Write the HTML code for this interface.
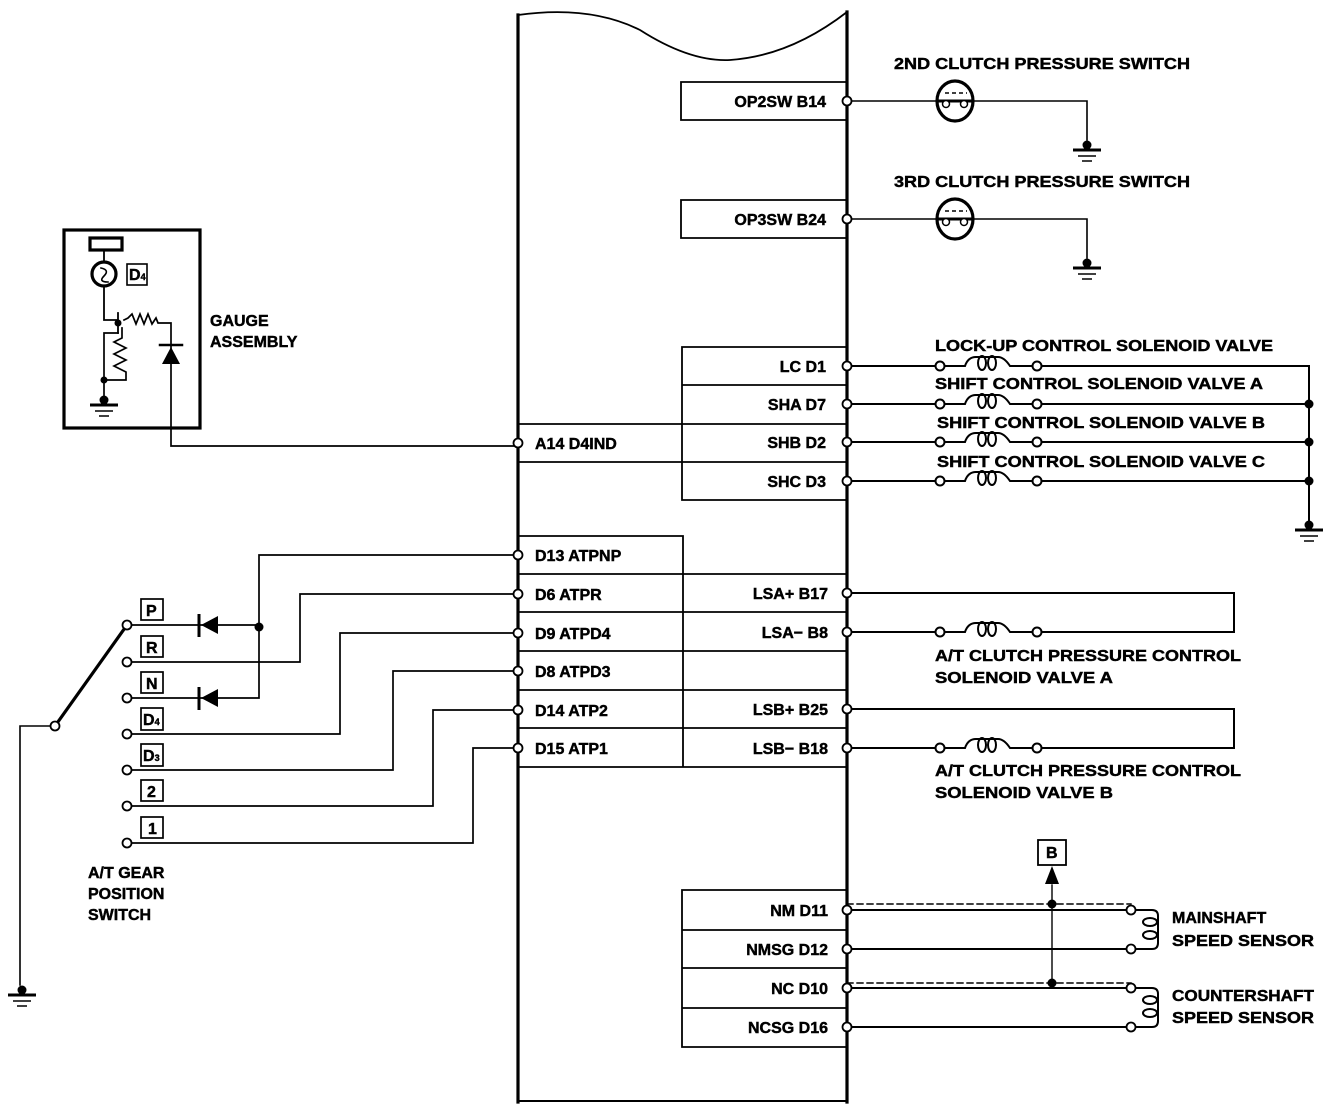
<!DOCTYPE html>
<html><head><meta charset="utf-8"><style>
html,body{margin:0;padding:0;background:#fff;}
svg{display:block;}
text{font-family:"Liberation Sans",sans-serif;font-weight:bold;font-size:16px;fill:#000;stroke:#000;stroke-width:0.45px;}
</style></head><body>
<svg width="1344" height="1110" viewBox="0 0 1344 1110" xmlns="http://www.w3.org/2000/svg">
<defs>
<g id="gnd"><circle cx="0" cy="-3" r="4.5" fill="#000"/><line x1="-14" y1="2" x2="14" y2="2" stroke="#000" stroke-width="3"/><line x1="-9" y1="8" x2="9" y2="8" stroke="#000" stroke-width="1.5"/><line x1="-5" y1="13" x2="5" y2="13" stroke="#000" stroke-width="1.5"/></g>
<g id="coil" fill="none" stroke="#000" stroke-width="2"><path d="M5 0 L25 0 Q28 -9 36 -9 L58 -9 Q64 -9 70 0 L92 0"/><ellipse cx="42" cy="-3" rx="4" ry="7"/><ellipse cx="52" cy="-3" rx="4" ry="7"/><circle cx="0" cy="0" r="4.5" fill="#fff"/><circle cx="97" cy="0" r="4.5" fill="#fff"/></g>
<g id="pin"><circle r="4.5" fill="#fff" stroke="#000" stroke-width="1.8"/></g>
<g id="psw"><ellipse cx="0" cy="0" rx="18" ry="20" fill="#fff" stroke="#000" stroke-width="3.2"/><line x1="-18" y1="0" x2="18" y2="0" stroke="#000" stroke-width="3"/><line x1="-10" y1="-8" x2="12" y2="-8" stroke="#000" stroke-width="1.5" stroke-dasharray="4 3"/><circle cx="-9" cy="3" r="3.5" fill="#fff" stroke="#000" stroke-width="1.5"/><circle cx="9" cy="3" r="3.5" fill="#fff" stroke="#000" stroke-width="1.5"/></g>
</defs>
<g fill="none" stroke="#000" stroke-linecap="square">
<path d="M518 15 Q590 5 640 30 Q690 62 730 60 Q790 56 847 12" stroke-width="1.8"/>
<line x1="518" y1="15" x2="518" y2="1102" stroke-width="3.2"/>
<line x1="847" y1="12" x2="847" y2="1102" stroke-width="3.2"/>
<line x1="518" y1="1101" x2="847" y2="1101" stroke-width="2"/>
<g stroke-width="1.8">
<path d="M847 82 H681 V120 H847"/>
<path d="M847 200 H681 V238 H847"/>
<path d="M847 347 H682 V500 H847 M682 385 H847 M518 424 H847 M682 462 H847 M518 462 H682"/>
<path d="M518 536 H683 V767 M518 574 H847 M518 612 H847 M518 651 H847 M518 690 H847 M518 728 H847 M518 767 H847"/>
<path d="M847 890 H682 V1047 H847 M682 930 H847 M682 968 H847 M682 1008 H847"/>
</g>
<g stroke-width="1.6">
<path d="M847 101 H937 M973 101 H1087 V140"/>
<path d="M847 219 H937 M973 219 H1087 V258"/>
</g>
<g stroke-width="2">
<path d="M847 366 H940 M1037 366 H1309 V520"/>
<path d="M847 404 H940 M1037 404 H1309"/>
<path d="M847 442 H940 M1037 442 H1309"/>
<path d="M847 481 H940 M1037 481 H1309"/>
<path d="M847 593 H1234 V632 H1037 M847 632 H940"/>
<path d="M847 709 H1234 V748 H1037 M847 748 H940"/>
</g>
<g stroke-width="2">
<path d="M847 910 H1131 M847 949 H1131 M847 988 H1131 M847 1027 H1131"/>
<path d="M1136 910 H1152 Q1158 910 1158 916 V943 Q1158 949 1152 949 H1136"/>
<path d="M1136 988 H1152 Q1158 988 1158 994 V1021 Q1158 1027 1152 1027 H1136"/>
<ellipse cx="1150" cy="922" rx="7" ry="4"/><ellipse cx="1150" cy="935" rx="7" ry="4"/>
<ellipse cx="1150" cy="1000" rx="7" ry="4"/><ellipse cx="1150" cy="1013" rx="7" ry="4"/>
</g>
<g stroke-width="1.4" stroke-dasharray="6 4"><path d="M847 904 H1131 M847 983 H1131"/></g>
<path d="M1052 983 V885" stroke-width="1.4"/>
<rect x="1038" y="840" width="28" height="25" stroke-width="1.8"/>
<rect x="64" y="230" width="136" height="198" stroke-width="3.2"/>
<rect x="90" y="238" width="32" height="12" stroke-width="3.2"/>
<path d="M104 250 V261 M104 287 V320 H118 M118 313 V333" stroke-width="1.8"/>
<circle cx="104" cy="274" r="12" stroke-width="3.2"/>
<path d="M101 268 Q110 270 104 276 Q98 282 108 282" stroke-width="1.6"/>
<rect x="127" y="264" width="20" height="21" stroke-width="1.6"/>
<path d="M124 320 L128 318 L132 314 L136 324 L140 314 L144 324 L148 314 L152 324 L156 318 L158 323 H171 V446 H518" stroke-width="1.7"/>
<path d="M118 333 H104 V380 M122 328 V338 L114 342 L126 348 L114 354 L126 360 L114 366 L126 372 V380 H104 V398" stroke-width="1.7"/>
<line x1="160" y1="345" x2="182" y2="345" stroke-width="2.5"/>
<path d="M55 726 L127 625" stroke-width="3.2"/>
<path d="M51 726 H20 V985" stroke-width="1.6"/>
<g stroke-width="1.7">
<path d="M127 625 H259 M127 698 H259 V555 H518"/>
<path d="M127 662 H300 V594 H518"/>
<path d="M127 734 H340 V633 H518"/>
<path d="M127 770 H393 V671 H518"/>
<path d="M127 806 H433 V710 H518"/>
<path d="M127 843 H473 V748 H518"/>
</g>
<g stroke-width="1.7">
<rect x="141" y="599" width="22" height="21"/><rect x="141" y="636" width="22" height="21"/>
<rect x="141" y="672" width="22" height="21"/><rect x="141" y="708" width="22" height="22"/>
<rect x="141" y="744" width="22" height="22"/><rect x="141" y="780" width="22" height="21"/>
<rect x="141" y="817" width="22" height="21"/>
</g>
</g>
<polygon points="201,625 218,616 218,634" fill="#000"/><line x1="199" y1="614" x2="199" y2="637" stroke="#000" stroke-width="3"/>
<polygon points="201,698 218,689 218,707" fill="#000"/><line x1="199" y1="687" x2="199" y2="710" stroke="#000" stroke-width="3"/>
<polygon points="171,347 162,364 180,364" fill="#000"/>
<circle cx="259" cy="627" r="4.5" fill="#000"/>
<circle cx="104" cy="380" r="3.5" fill="#000"/>
<circle cx="118" cy="323" r="3.5" fill="#000"/>
<use href="#pin" x="847" y="101"/><use href="#pin" x="847" y="219"/>
<use href="#pin" x="847" y="366"/><use href="#pin" x="847" y="404"/><use href="#pin" x="847" y="442"/><use href="#pin" x="847" y="481"/>
<use href="#pin" x="518" y="443"/>
<use href="#pin" x="518" y="555"/><use href="#pin" x="518" y="594"/><use href="#pin" x="518" y="633"/><use href="#pin" x="518" y="671"/><use href="#pin" x="518" y="710"/><use href="#pin" x="518" y="748"/>
<use href="#pin" x="847" y="593"/><use href="#pin" x="847" y="632"/><use href="#pin" x="847" y="709"/><use href="#pin" x="847" y="748"/>
<use href="#pin" x="847" y="910"/><use href="#pin" x="847" y="949"/><use href="#pin" x="847" y="988"/><use href="#pin" x="847" y="1027"/>
<use href="#pin" x="1131" y="910"/><use href="#pin" x="1131" y="949"/><use href="#pin" x="1131" y="988"/><use href="#pin" x="1131" y="1027"/>
<use href="#pin" x="127" y="625"/><use href="#pin" x="127" y="662"/><use href="#pin" x="127" y="698"/><use href="#pin" x="127" y="734"/><use href="#pin" x="127" y="770"/><use href="#pin" x="127" y="806"/><use href="#pin" x="127" y="843"/>
<use href="#pin" x="55" y="726"/>
<use href="#coil" x="940" y="366"/><use href="#coil" x="940" y="404"/><use href="#coil" x="940" y="442"/><use href="#coil" x="940" y="481"/>
<use href="#coil" x="940" y="632"/><use href="#coil" x="940" y="748"/>
<use href="#psw" x="955" y="101"/><use href="#psw" x="955" y="219"/>
<circle cx="1309" cy="404" r="4.5"/><circle cx="1309" cy="442" r="4.5"/><circle cx="1309" cy="481" r="4.5"/>
<circle cx="1052" cy="904" r="4.5"/><circle cx="1052" cy="983" r="4.5"/>
<polygon points="1052,866 1045,884 1059,884" fill="#000"/>
<use href="#gnd" x="1087" y="148"/><use href="#gnd" x="1087" y="266"/><use href="#gnd" x="1309" y="528"/>
<use href="#gnd" x="104" y="403"/><use href="#gnd" x="22" y="993"/>
<text x="894" y="69" textLength="296" lengthAdjust="spacingAndGlyphs">2ND CLUTCH PRESSURE SWITCH</text>
<text x="894" y="187" textLength="296" lengthAdjust="spacingAndGlyphs">3RD CLUTCH PRESSURE SWITCH</text>
<text x="826" y="107" text-anchor="end">OP2SW B14</text>
<text x="826" y="225" text-anchor="end">OP3SW B24</text>
<text x="826" y="372" text-anchor="end">LC D1</text>
<text x="826" y="410" text-anchor="end">SHA D7</text>
<text x="826" y="448" text-anchor="end">SHB D2</text>
<text x="826" y="487" text-anchor="end">SHC D3</text>
<text x="535" y="449">A14 D4IND</text>
<text x="935" y="351" textLength="338" lengthAdjust="spacingAndGlyphs">LOCK-UP CONTROL SOLENOID VALVE</text>
<text x="935" y="389" textLength="328" lengthAdjust="spacingAndGlyphs">SHIFT CONTROL SOLENOID VALVE A</text>
<text x="937" y="428" textLength="328" lengthAdjust="spacingAndGlyphs">SHIFT CONTROL SOLENOID VALVE B</text>
<text x="937" y="467" textLength="328" lengthAdjust="spacingAndGlyphs">SHIFT CONTROL SOLENOID VALVE C</text>
<text x="535" y="561">D13 ATPNP</text>
<text x="535" y="600">D6 ATPR</text>
<text x="535" y="639">D9 ATPD4</text>
<text x="535" y="677">D8 ATPD3</text>
<text x="535" y="716">D14 ATP2</text>
<text x="535" y="754">D15 ATP1</text>
<text x="828" y="599" text-anchor="end">LSA+ B17</text>
<text x="828" y="638" text-anchor="end">LSA− B8</text>
<text x="828" y="715" text-anchor="end">LSB+ B25</text>
<text x="828" y="754" text-anchor="end">LSB− B18</text>
<text x="935" y="661" textLength="306" lengthAdjust="spacingAndGlyphs">A/T CLUTCH PRESSURE CONTROL</text>
<text x="935" y="683" textLength="178" lengthAdjust="spacingAndGlyphs">SOLENOID VALVE A</text>
<text x="935" y="776" textLength="306" lengthAdjust="spacingAndGlyphs">A/T CLUTCH PRESSURE CONTROL</text>
<text x="935" y="798" textLength="178" lengthAdjust="spacingAndGlyphs">SOLENOID VALVE B</text>
<text x="828" y="916" text-anchor="end">NM D11</text>
<text x="828" y="955" text-anchor="end">NMSG D12</text>
<text x="828" y="994" text-anchor="end">NC D10</text>
<text x="828" y="1033" text-anchor="end">NCSG D16</text>
<text x="1046" y="858" font-size="14">B</text>
<text x="1172" y="923">MAINSHAFT</text>
<text x="1172" y="946" textLength="142" lengthAdjust="spacingAndGlyphs">SPEED SENSOR</text>
<text x="1172" y="1001" textLength="142" lengthAdjust="spacingAndGlyphs">COUNTERSHAFT</text>
<text x="1172" y="1023" textLength="142" lengthAdjust="spacingAndGlyphs">SPEED SENSOR</text>
<text x="210" y="326">GAUGE</text>
<text x="210" y="347">ASSEMBLY</text>
<text x="88" y="878">A/T GEAR</text>
<text x="88" y="899">POSITION</text>
<text x="88" y="920">SWITCH</text>
<g font-size="15" style="font-weight:normal;stroke-width:0.3px">
<text x="146" y="616">P</text><text x="146" y="653">R</text><text x="146" y="689">N</text>
<text x="143" y="725">D<tspan font-size="9">4</tspan></text>
<text x="143" y="761">D<tspan font-size="9">3</tspan></text>
<text x="147" y="797">2</text><text x="148" y="834">1</text>
<text x="129" y="280" font-size="14">D<tspan font-size="9">4</tspan></text>
</g>
</svg>
</body></html>
